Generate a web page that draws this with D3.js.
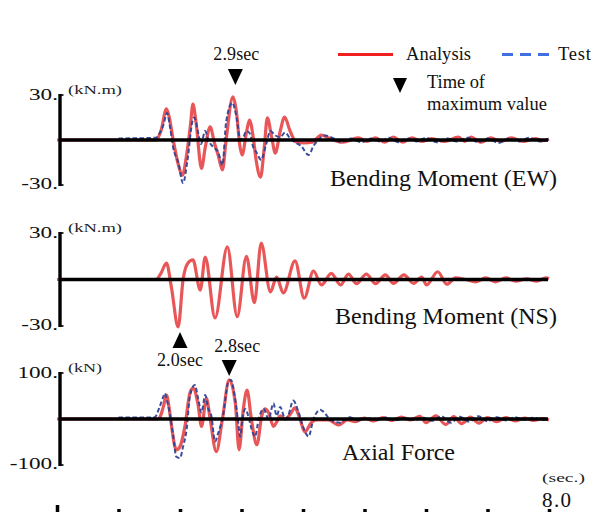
<!DOCTYPE html>
<html>
<head>
<meta charset="utf-8">
<script src="https://cdn.jsdelivr.net/npm/d3@7"></script>
<style>
  html, body { margin: 0; padding: 0; background: #fff; }
  svg { display: block; }
</style>
</head>
<body>
<script>
// Time axis (seconds)
const timeTicks = [0, 1, 2, 3, 4, 5, 6, 7, 8];
const timeEndLabel = "8.0";

// Bending moment EW (kN.m) — [time, value]
const ewAnalysis = [[0,0],[1.61,0],[1.69,6],[1.78,20.7],[1.82,16],[1.89,0],[1.97,-16],[2.04,-23.5],[2.10,-12],[2.17,10],[2.21,24],[2.26,12],[2.35,-19],[2.41,-5],[2.49,8.7],[2.56,-2],[2.62,-10],[2.69,-20],[2.75,0],[2.86,28.7],[2.92,18],[2.97,-3],[3.01,-10],[3.08,5],[3.13,13.3],[3.19,2],[3.24,-14],[3.31,-24.7],[3.37,-5],[3.42,14.7],[3.49,2],[3.55,-8.7],[3.63,6],[3.70,15.3],[3.79,6],[3.89,-1.3],[4.02,-2],[4.15,-1.5],[4.30,3.3],[4.41,1.5],[4.65,-1.5],[4.90,1.5],[5.04,-1],[5.18,1.5],[5.33,-1.5],[5.47,2],[5.62,-1.5],[5.77,1.5],[5.93,-1],[6.09,1],[6.30,-1],[6.53,2],[6.63,-1],[6.73,2],[6.90,-1.5],[7.05,1.5],[7.22,-1],[7.39,1.5],[7.58,-1],[7.78,1],[7.90,-0.5],[8.0,0.5]];
const ewTest = [[1.0,1],[1.61,1.5],[1.66,4],[1.73,10],[1.79,18],[1.84,8],[1.89,-5.3],[1.97,-14.7],[2.05,-28.7],[2.12,-14],[2.20,12],[2.23,15],[2.30,4],[2.34,-2.7],[2.41,6],[2.46,0],[2.54,-4.7],[2.62,-8],[2.69,-16.7],[2.75,12],[2.85,24.7],[2.92,15],[2.98,0],[3.03,2],[3.08,6],[3.14,4],[3.19,-4.7],[3.24,-8],[3.32,-13.3],[3.40,-3],[3.47,6],[3.55,3],[3.63,2],[3.71,5],[3.79,1],[3.89,-2],[3.97,-4],[4.09,-10],[4.17,-4],[4.25,0],[4.36,3],[4.5,1],[4.62,-1.5],[4.78,1],[4.95,-1.5],[5.1,1],[5.25,-1],[5.4,1.5],[5.55,-1.5],[5.7,1],[5.85,-1],[6.0,1.5],[6.18,-1.5],[6.35,1],[6.5,-1],[6.68,1.5],[6.85,-1.5],[7.0,1],[7.18,-2],[7.35,1],[7.5,-1],[7.68,1.5],[7.85,-1],[8.0,0.5]];

// Bending moment NS (kN.m)
const nsAnalysis = [[0,0],[1.61,0],[1.69,4],[1.78,10.6],[1.86,-5],[1.97,-30.6],[2.05,0],[2.13,10.6],[2.21,12.6],[2.33,-6.8],[2.41,14.5],[2.57,-24.8],[2.77,21],[2.93,-24],[3.08,15],[3.21,-15],[3.32,23.5],[3.47,-8],[3.57,1.6],[3.68,-8.7],[3.87,12],[4.02,-12],[4.17,5.5],[4.30,-3.5],[4.46,4],[4.61,-3.5],[4.74,3.5],[4.87,-2.7],[5.03,3.5],[5.18,-2.7],[5.34,3],[5.47,-2.5],[5.64,3],[5.80,-2.5],[5.93,1.5],[6.01,-3.5],[6.19,5],[6.34,-3],[6.48,1],[6.64,0],[6.81,-1.5],[6.97,1],[7.13,-1.5],[7.30,1],[7.46,-1],[7.64,0.5],[7.80,-1],[7.95,1],[8.0,0.5]];

// Axial force (kN)
const axialAnalysis = [[0,0],[1.64,0],[1.67,3],[1.73,27],[1.78,52],[1.82,27],[1.86,-13],[1.94,-67],[2.00,-60],[2.08,-16],[2.16,56],[2.21,67],[2.29,34],[2.35,-16],[2.43,45],[2.49,0],[2.59,-71],[2.69,0],[2.80,85],[2.90,34],[2.96,-67],[3.03,22],[3.09,63],[3.16,0],[3.25,-56],[3.33,7],[3.38,22],[3.44,14],[3.52,-16],[3.57,-7],[3.63,7],[3.71,0],[3.79,10],[3.87,24],[3.95,0],[4.03,-28],[4.14,-7],[4.22,-2],[4.41,-2],[4.58,-13],[4.72,-2],[4.85,-6],[5.0,2],[5.15,-4],[5.3,3],[5.45,-3],[5.6,4],[5.75,-2],[5.9,6],[6.0,-8],[6.16,7],[6.32,-12],[6.45,5],[6.58,-10],[6.72,4],[6.86,-9],[7.0,3],[7.15,-6],[7.3,3],[7.45,-4],[7.6,2],[7.75,-3],[7.9,1],[8.0,-2]];
const axialTest = [[1.0,3],[1.4,3],[1.59,4],[1.67,27],[1.73,49],[1.75,56],[1.80,34],[1.84,7],[1.89,-38],[1.94,-82],[2.00,-85],[2.05,-60],[2.11,-20],[2.16,49],[2.24,74],[2.30,41],[2.35,14],[2.41,52],[2.46,22],[2.51,7],[2.57,-49],[2.62,-31],[2.70,7],[2.78,78],[2.83,85],[2.89,49],[2.94,0],[2.98,-38],[3.01,-5],[3.06,22],[3.11,7],[3.16,-20],[3.22,-38],[3.28,0],[3.36,22],[3.44,0],[3.52,34],[3.57,7],[3.63,26],[3.71,0],[3.76,7],[3.84,40],[3.93,14],[4.01,-20],[4.09,-38],[4.17,0],[4.28,20],[4.33,16],[4.45,-2],[4.6,-8],[4.75,4],[4.9,-3],[5.05,2],[5.2,-2],[5.35,3],[5.5,-3],[5.65,2],[5.8,-2],[5.95,3],[6.1,-4],[6.25,6],[6.4,-8],[6.55,5],[6.7,-6],[6.85,6],[7.0,-5],[7.15,4],[7.3,-3],[7.45,4],[7.6,-2],[7.75,3],[7.9,-2],[8.0,0]];

// Axis labels
const momentTicks = [30, -30];
const momentTickLabels = ["30.", "-30."];
const axialTicks = [100, -100];
const axialTickLabels = ["100.", "-100."];

// Times of maximum value
const markTimes = [2.9, 2.0, 2.8];
const markLabels = ["2.9sec", "2.0sec", "2.8sec"];

const W = 602, H = 512;
const RED = "#e5383b", BLUE = "#2f4596";
const FONT = '"Liberation Serif"';

const svg = d3.select("body").append("svg").attr("width", W).attr("height", H);

const x = d3.scaleLinear().domain([0, 8]).range([57, 549]);

const panels = [
  { analysis: ewAnalysis, test: ewTest, y: d3.scaleLinear().domain([-30, 30]).range([185, 95]),
    ticks: momentTicks, tickLabels: momentTickLabels, unit: "(kN.m)",
    title: "Bending Moment (EW)", titleX: 330, titleY: 186, titleW: 227 },
  { analysis: nsAnalysis, test: null, y: d3.scaleLinear().domain([-30, 30]).range([326, 233]),
    ticks: momentTicks, tickLabels: momentTickLabels, unit: "(kN.m)",
    title: "Bending Moment (NS)", titleX: 335, titleY: 324, titleW: 222 },
  { analysis: axialAnalysis, test: axialTest, y: d3.scaleLinear().domain([-100, 100]).range([465, 373]),
    ticks: axialTicks, tickLabels: axialTickLabels, unit: "(kN)",
    title: "Axial Force", titleX: 342, titleY: 460, titleW: 113 }
];

const axisX = 60;

function label(sel, size, fill) {
  return sel.style("font-family", FONT).attr("font-size", size).attr("fill", fill || "#111");
}

panels.forEach(p => {
  const g = svg.append("g");
  const line = d3.line().x(d => x(d[0])).y(d => p.y(d[1])).curve(d3.curveMonotoneX);

  // analysis trace
  g.append("path").datum(p.analysis).attr("d", line)
    .attr("fill", "none").attr("stroke", RED).attr("stroke-width", 3.2)
    .attr("stroke-opacity", 0.85).attr("stroke-linejoin", "round");

  // test trace
  if (p.test) {
    g.append("path").datum(p.test).attr("d", line)
      .attr("fill", "none").attr("stroke", BLUE).attr("stroke-width", 2)
      .attr("stroke-dasharray", "4.5,2.5").attr("stroke-opacity", 0.95);
  }

  // zero line
  g.append("line").attr("x1", axisX).attr("x2", x(8) - 1)
    .attr("y1", p.y(0)).attr("y2", p.y(0))
    .attr("stroke", "#000").attr("stroke-width", 3.6);

  // vertical axis with end caps
  const yTop = p.y(p.ticks[0]), yBot = p.y(p.ticks[1]);
  g.append("line").attr("x1", axisX).attr("x2", axisX).attr("y1", yTop - 1).attr("y2", yBot + 1)
    .attr("stroke", "#000").attr("stroke-width", 3.4);
  p.ticks.forEach(t => {
    g.append("line").attr("x1", axisX - 1).attr("x2", axisX + 3.5)
      .attr("y1", p.y(t)).attr("y2", p.y(t)).attr("stroke", "#000").attr("stroke-width", 1.6);
  });

  // tick labels (wide lettering)
  p.ticks.forEach((t, i) => {
    label(g.append("text"), 16)
      .attr("transform", `translate(${axisX - 2},${p.y(t) + (i === 0 ? 5 : 3.5)}) scale(1.45,1)`)
      .attr("text-anchor", "end")
      .text(p.tickLabels[i]);
  });

  // unit
  label(g.append("text"), 12, "#222").attr("x", 68).attr("y", yTop - 1)
    .attr("textLength", p.unit.length > 4 ? 54 : 34).attr("lengthAdjust", "spacingAndGlyphs")
    .text(p.unit);

  // title
  label(g.append("text"), 24).attr("x", p.titleX).attr("y", p.titleY)
    .attr("textLength", p.titleW).attr("lengthAdjust", "spacing")
    .text(p.title);
});

// time-of-maximum markers
function tri(cx, top, h, w, down) {
  return down
    ? `M${cx - w / 2},${top}L${cx + w / 2},${top}L${cx},${top + h}Z`
    : `M${cx - w / 2},${top + h}L${cx + w / 2},${top + h}L${cx},${top}Z`;
}
const markLayout = [
  { top: 69, down: true, labelY: 60, labelDx: 1 },
  { top: 332, down: false, labelY: 366, labelDx: 0 },
  { top: 360, down: true, labelY: 352, labelDx: 8 }
];
markTimes.forEach((t, i) => {
  const m = markLayout[i];
  const cx = x(t);
  svg.append("path").attr("d", tri(cx, m.top, 16, 15, m.down)).attr("fill", "#000");
  label(svg.append("text"), 18).attr("x", cx + m.labelDx).attr("y", m.labelY)
    .attr("text-anchor", "middle")
    .attr("textLength", 46).attr("lengthAdjust", "spacing")
    .text(markLabels[i]);
});

// time axis ticks (axis line sits just below the visible area)
const timeAxis = d3.axisTop(x).tickValues(timeTicks).tickSize(4).tickFormat("");
const ta = svg.append("g").attr("transform", `translate(0,513)`).call(timeAxis);
ta.select(".domain").attr("stroke", "#000").attr("stroke-width", 3);
ta.selectAll(".tick line").attr("stroke", "#000").attr("stroke-width", 3.5);
ta.selectAll(".tick").filter(d => d === 0).select("line").attr("y2", -8);

label(svg.append("text"), 13, "#222").attr("x", x(8) - 7).attr("y", 482)
  .attr("textLength", 43).attr("lengthAdjust", "spacingAndGlyphs").text("(sec.)");
label(svg.append("text"), 21).attr("x", x(8) - 7).attr("y", 507)
  .attr("textLength", 29).attr("lengthAdjust", "spacing").text(timeEndLabel);

// legend
const lg = svg.append("g");
lg.append("line").attr("x1", 338).attr("x2", 393).attr("y1", 54.5).attr("y2", 54.5)
  .attr("stroke", "#f01e1e").attr("stroke-width", 3);
label(lg.append("text"), 18.5).attr("x", 406).attr("y", 60)
  .attr("textLength", 65).attr("lengthAdjust", "spacing").text("Analysis");
lg.append("line").attr("x1", 502).attr("x2", 553).attr("y1", 54.5).attr("y2", 54.5)
  .attr("stroke", "#3f6fe0").attr("stroke-width", 3).attr("stroke-dasharray", "11,7");
label(lg.append("text"), 18.5).attr("x", 558).attr("y", 60)
  .attr("textLength", 33).attr("lengthAdjust", "spacing").text("Test");
lg.append("path").attr("d", tri(400, 78, 15, 14, true)).attr("fill", "#000");
label(lg.append("text"), 18.5).attr("x", 427).attr("y", 88)
  .attr("textLength", 58).attr("lengthAdjust", "spacing").text("Time of");
label(lg.append("text"), 18.5).attr("x", 427).attr("y", 110)
  .attr("textLength", 120).attr("lengthAdjust", "spacing").text("maximum value");
</script>
</body>
</html>
